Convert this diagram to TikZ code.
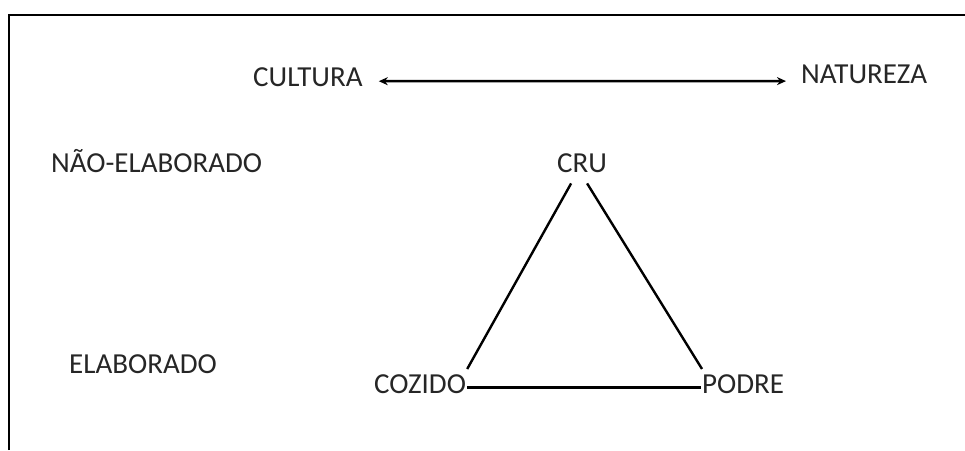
\documentclass[tikz,border=0pt]{standalone}
\usepackage{fontspec}
\setmainfont{Carlito}
\usetikzlibrary{arrows.meta}
\begin{document}
\begin{tikzpicture}[x={(1pt,0pt)},y={(0pt,-1pt)},
  lbl/.style={inner sep=0pt, anchor=base west, font=\fontsize{29}{33}\selectfont, text=black!85},
  edgeline/.style={line width=2.4pt, black},
  frameline/.style={line width=1.8pt, black},
]
\useasboundingbox (0,0) rectangle (965,450);
\draw[frameline] (9,450) -- (9,15) -- (965,15);
\node[lbl] (cultura) at (253,86.5) {CULTURA};
\node[lbl] (natureza) at (801,83.3) {NATUREZA};
\node[lbl] (nao) at (51,172) {NÃO-ELABORADO};
\node[lbl] (cru) at (557,172) {CRU};
\node[lbl] (elab) at (69,373) {ELABORADO};
\node[lbl] (cozido) at (374,393) {COZIDO};
\node[lbl] (podre) at (702,393) {PODRE};
\draw[edgeline, {Stealth[length=9pt,width=8pt]}-{Stealth[length=9pt,width=8pt]}]
  ([shift={(16pt,-4pt)}]cultura.east) -- ([shift={(-15pt,-7pt)}]natureza.west);
\draw[edgeline] ([shift={(-11pt,-11pt)}]cru.south) -- ([shift={(1pt,5pt)}]cozido.north east);
\draw[edgeline] ([shift={(5pt,-11pt)}]cru.south) -- ([shift={(0pt,5pt)}]podre.north west);
\draw[edgeline] ([shift={(1pt,-4pt)}]cozido.east) -- ([shift={(-1pt,-4pt)}]podre.west);
\end{tikzpicture}
\end{document}
